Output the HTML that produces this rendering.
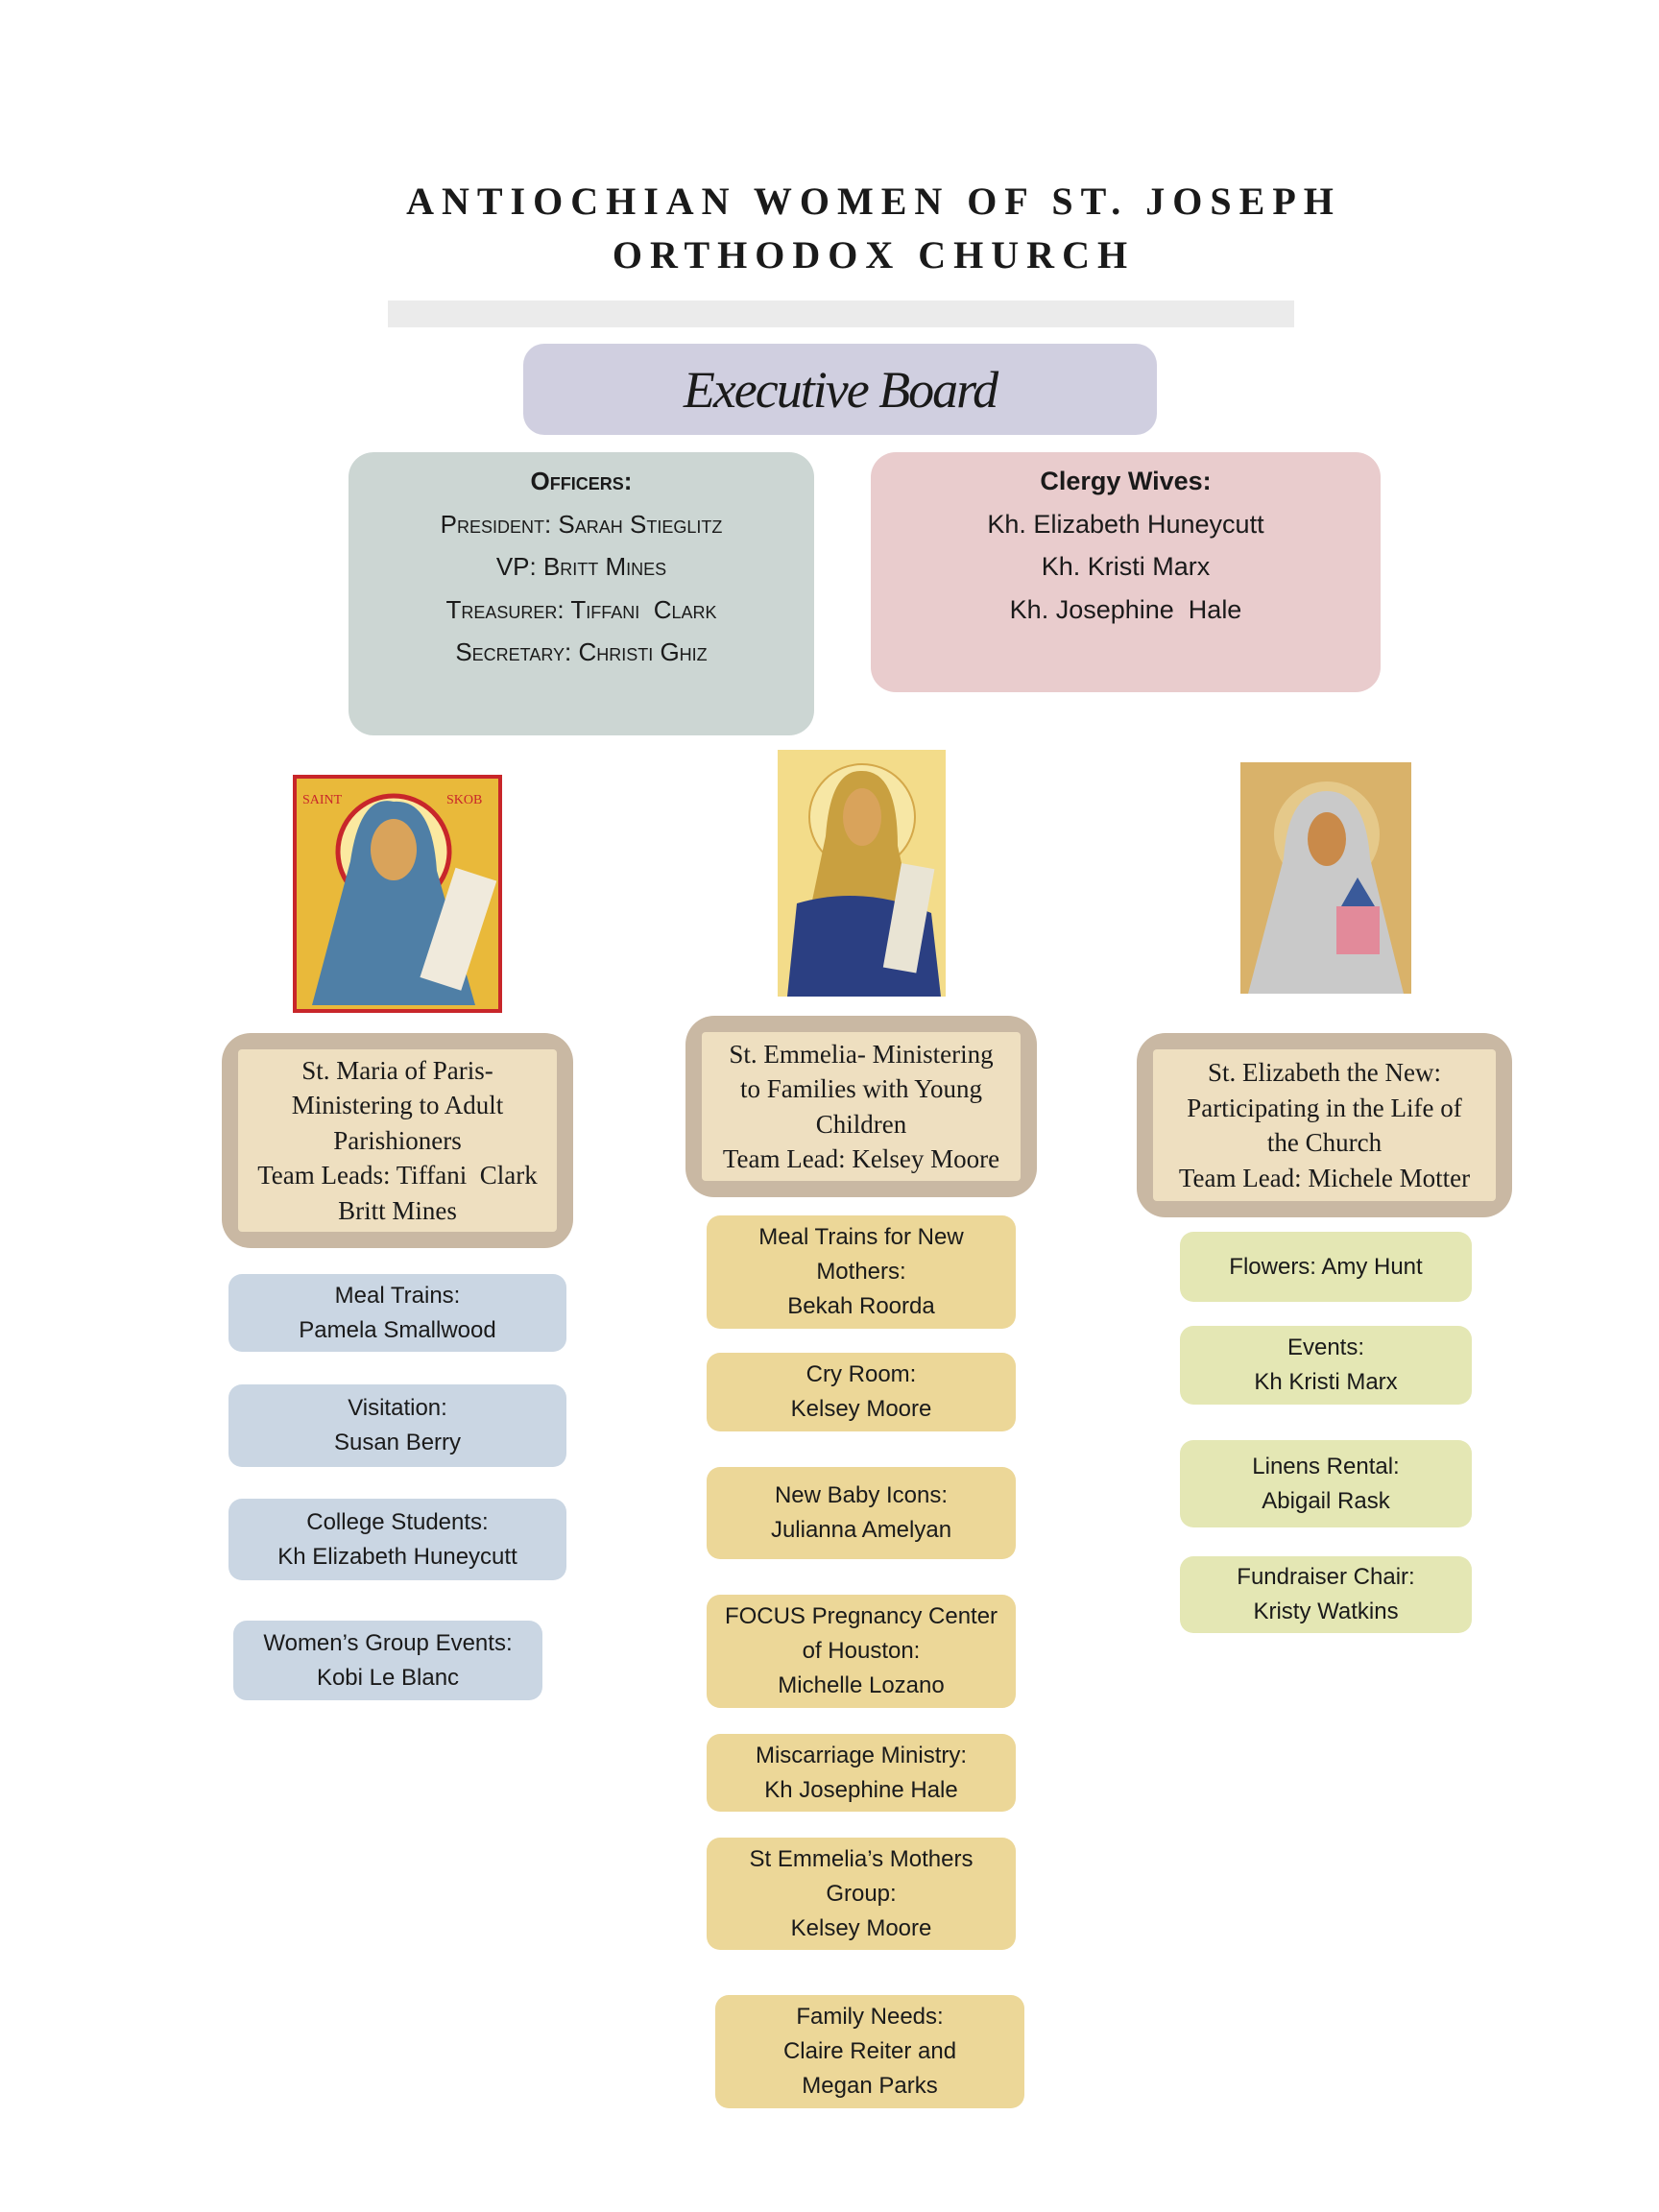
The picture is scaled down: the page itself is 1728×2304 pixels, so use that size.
<!DOCTYPE html>
<html><head><meta charset="utf-8"><style>
*{margin:0;padding:0;box-sizing:border-box}
body{width:1728px;height:2304px;background:#fff;position:relative;overflow:hidden;font-family:"Liberation Sans",sans-serif;color:#1a1a1a}
.a{position:absolute}
.box{position:absolute;display:flex;flex-direction:column;align-items:center;justify-content:center;text-align:center}
.s{font-size:24px;line-height:36px;border-radius:14px}
.blue{background:#cad6e3}
.yel{background:#ecd798}
.grn{background:#e4e7b4}
.team{position:absolute;background:#c9b8a3;border-radius:30px;padding:17px}
.team div{width:100%;height:100%;background:#eedfc0;display:flex;flex-direction:column;justify-content:center;align-items:center;text-align:center;font-family:"Liberation Serif",serif;font-size:27px;line-height:36.5px;border-radius:4px}
.title{position:absolute;left:46px;width:1728px;text-align:center;font-family:"Liberation Serif",serif;font-weight:bold;font-size:40px;letter-spacing:8px}
.sc{font-variant:small-caps}
</style></head><body>
<div class="title" style="top:186px">ANTIOCHIAN WOMEN OF ST. JOSEPH</div>
<div class="title" style="top:242px">ORTHODOX CHURCH</div>
<div class="a" style="left:404px;top:313px;width:944px;height:28px;background:#ebebeb"></div>
<div class="box" style="left:545px;top:358px;width:660px;height:95px;background:#d0cfe0;border-radius:22px;font-family:'Liberation Serif',serif;font-style:italic;font-size:54px;letter-spacing:-2px">Executive Board</div>

<div class="a" style="left:363px;top:471px;width:485px;height:295px;background:#ccd6d3;border-radius:26px;text-align:center;font-size:26px;line-height:44.5px;padding-top:8px">
<div class="sc" style="font-weight:bold">Officers:</div>
<div class="sc">President: Sarah Stieglitz</div>
<div class="sc">VP: Britt Mines</div>
<div class="sc">Treasurer: Tiffani&nbsp; Clark</div>
<div class="sc">Secretary: Christi Ghiz</div>
</div>
<div class="a" style="left:907px;top:471px;width:531px;height:250px;background:#e9cccd;border-radius:26px;text-align:center;font-size:27px;line-height:44.5px;padding-top:8px">
<div style="font-weight:bold">Clergy Wives:</div>
<div>Kh. Elizabeth Huneycutt</div>
<div>Kh. Kristi Marx</div>
<div>Kh. Josephine&nbsp; Hale</div>
</div>

<svg class="a" style="left:305px;top:807px" width="218" height="248" viewBox="0 0 218 248">
<rect width="218" height="248" fill="#c8262a"/><rect x="4" y="4" width="210" height="240" fill="#e9b93a"/>
<circle cx="105" cy="80" r="58" fill="#fbe9a0" stroke="#c8262a" stroke-width="5"/>
<path d="M60 90 Q70 20 105 28 Q145 25 150 100 L190 240 L20 240 Z" fill="#4f7fa6"/>
<ellipse cx="105" cy="78" rx="24" ry="32" fill="#d9a35b"/>
<rect x="150" y="100" width="45" height="120" fill="#f0eadc" transform="rotate(18 170 160)"/>
<text x="10" y="30" font-size="14" fill="#c8262a" font-family="Liberation Serif">SAINT</text>
<text x="160" y="30" font-size="14" fill="#c8262a" font-family="Liberation Serif">SKOB</text>
</svg>
<svg class="a" style="left:810px;top:781px" width="175" height="257" viewBox="0 0 175 257">
<rect width="175" height="257" fill="#f3dc8a"/>
<circle cx="88" cy="70" r="55" fill="#f7e7a5" stroke="#d4a84a" stroke-width="2"/>
<path d="M50 90 Q55 20 88 22 Q125 22 125 100 L160 257 L15 257 Z" fill="#c9a040"/>
<path d="M20 160 Q88 140 160 170 L170 257 L10 257 Z" fill="#2b3f82"/>
<ellipse cx="88" cy="70" rx="20" ry="30" fill="#d9a35b"/>
<rect x="120" y="120" width="35" height="110" fill="#e9e4d4" transform="rotate(10 135 170)"/>
</svg>
<svg class="a" style="left:1292px;top:794px" width="178" height="241" viewBox="0 0 178 241">
<rect width="178" height="241" fill="#d9b26a"/>
<circle cx="90" cy="75" r="55" fill="#e5c98a"/>
<path d="M45 100 Q50 30 90 30 Q130 30 135 100 L170 241 L8 241 Z" fill="#c9c9c9"/>
<ellipse cx="90" cy="80" rx="20" ry="28" fill="#c98a4a"/>
<rect x="100" y="150" width="45" height="50" fill="#e28a9a"/>
<path d="M105 150 L122 120 L140 150 Z" fill="#3a5a9a"/>
</svg>

<div class="team" style="left:231px;top:1076px;width:366px;height:224px"><div>St. Maria of Paris-<br>Ministering to Adult<br>Parishioners<br>Team Leads: Tiffani&nbsp; Clark<br>Britt Mines</div></div>
<div class="team" style="left:714px;top:1058px;width:366px;height:189px"><div>St. Emmelia- Ministering<br>to Families with Young<br>Children<br>Team Lead: Kelsey Moore</div></div>
<div class="team" style="left:1184px;top:1076px;width:391px;height:192px"><div>St. Elizabeth the New:<br>Participating in the Life of<br>the Church<br>Team Lead: Michele Motter</div></div>

<div class="box s blue" style="left:238px;top:1327px;width:352px;height:81px">Meal Trains:<br>Pamela Smallwood</div>
<div class="box s blue" style="left:238px;top:1442px;width:352px;height:86px">Visitation:<br>Susan Berry</div>
<div class="box s blue" style="left:238px;top:1561px;width:352px;height:85px">College Students:<br>Kh Elizabeth Huneycutt</div>
<div class="box s blue" style="left:243px;top:1688px;width:322px;height:83px">Women’s Group Events:<br>Kobi Le Blanc</div>

<div class="box s yel" style="left:736px;top:1266px;width:322px;height:118px">Meal Trains for New<br>Mothers:<br>Bekah Roorda</div>
<div class="box s yel" style="left:736px;top:1409px;width:322px;height:82px">Cry Room:<br>Kelsey Moore</div>
<div class="box s yel" style="left:736px;top:1528px;width:322px;height:96px">New Baby Icons:<br>Julianna Amelyan</div>
<div class="box s yel" style="left:736px;top:1661px;width:322px;height:118px">FOCUS Pregnancy Center<br>of Houston:<br>Michelle Lozano</div>
<div class="box s yel" style="left:736px;top:1806px;width:322px;height:81px">Miscarriage Ministry:<br>Kh Josephine Hale</div>
<div class="box s yel" style="left:736px;top:1914px;width:322px;height:117px">St Emmelia’s Mothers<br>Group:<br>Kelsey Moore</div>
<div class="box s yel" style="left:745px;top:2078px;width:322px;height:118px">Family Needs:<br>Claire Reiter and<br>Megan Parks</div>

<div class="box s grn" style="left:1229px;top:1283px;width:304px;height:73px">Flowers: Amy Hunt</div>
<div class="box s grn" style="left:1229px;top:1381px;width:304px;height:82px">Events:<br>Kh Kristi Marx</div>
<div class="box s grn" style="left:1229px;top:1500px;width:304px;height:91px">Linens Rental:<br>Abigail Rask</div>
<div class="box s grn" style="left:1229px;top:1621px;width:304px;height:80px">Fundraiser Chair:<br>Kristy Watkins</div>
</body></html>
